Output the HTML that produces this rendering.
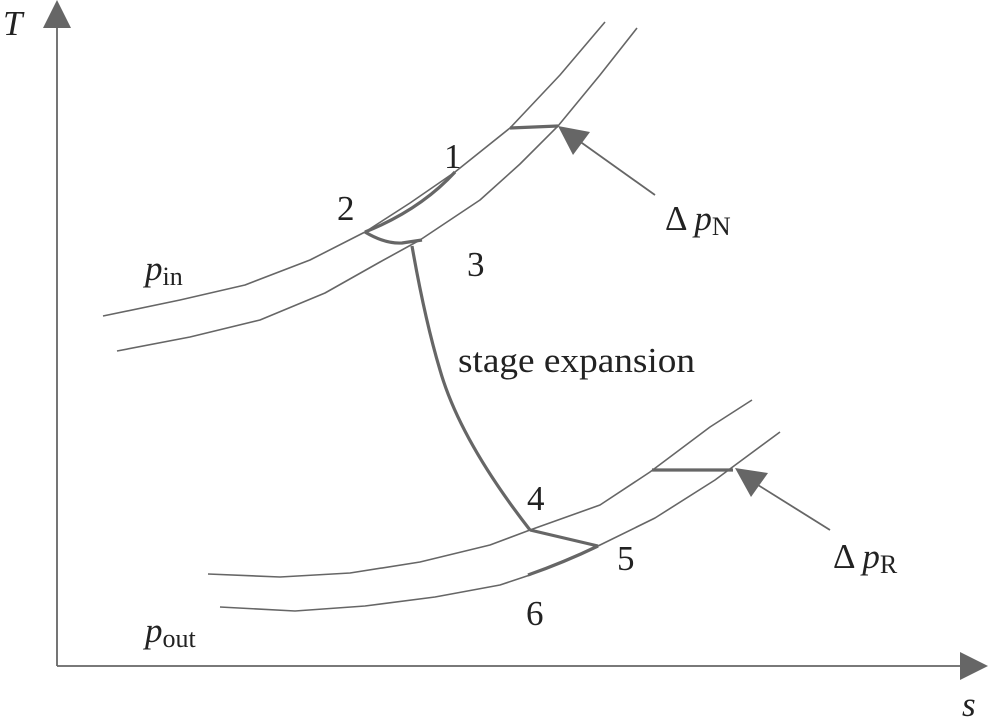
<!DOCTYPE html>
<html><head><style>
html,body{margin:0;padding:0;background:#fff;}
svg{display:block;}
text{font-family:"Liberation Serif",serif;fill:#222;font-size:35px;}
</style></head><body>
<svg width="990" height="724" viewBox="0 0 990 724">
<g fill="none" stroke="#666" stroke-width="1.6" stroke-linejoin="round">
<polyline points="103,316 180,300 245,285 310,260 365,232 410,203 455,172 510,128 560,75 605,22"/>
<polyline points="117,351 190,337 260,320 325,293 380,262 420,240 480,200 520,164 558,126 600,75 637,28"/>
<polyline points="208,574 280,577 350,573 420,562 490,545 530,530 600,505 650,472 710,427 752,400"/>
<polyline points="220,607 295,611 365,606 435,597 500,585 530,575 598,546 655,518 715,480 780,432"/>
</g>
<g fill="none" stroke="#666" stroke-width="3.2" stroke-linejoin="round">
<path d="M412,246 Q425,320 440,370 Q460,440 530,530"/>
<path d="M365,232 Q420,210 455,172"/>
<path d="M365,232 Q385,244 402,243 L422,240"/>
<line x1="510" y1="128" x2="558" y2="126"/>
<line x1="652" y1="470" x2="733" y2="470"/>
<line x1="530" y1="530" x2="598" y2="546"/>
<path d="M528,575 Q565,562 598,546"/>
</g>
<g stroke="#666" stroke-width="1.8">
<line x1="57" y1="666" x2="57" y2="20"/>
<line x1="57" y1="666" x2="965" y2="666"/>
<line x1="655" y1="195" x2="575" y2="138"/>
<line x1="830" y1="530" x2="750" y2="480"/>
</g>
<g fill="#666">
<polygon points="57,0 43,28 71,28"/>
<polygon points="988,666 960,652 960,680"/>
<polygon points="558,126 590,132 573,155"/>
<polygon points="735,468 768,473 751,497"/>
</g>
<text x="3" y="35" font-style="italic">T</text>
<text x="962" y="716" font-style="italic">s</text>
<text x="145" y="280" font-style="italic">p<tspan font-style="normal" font-size="26" dy="5">in</tspan></text>
<text x="145" y="642" font-style="italic">p<tspan font-style="normal" font-size="26" dy="5">out</tspan></text>
<text x="444" y="168">1</text>
<text x="337" y="220">2</text>
<text x="467" y="276">3</text>
<text x="527" y="510">4</text>
<text x="617" y="570">5</text>
<text x="526" y="625">6</text>
<text x="458" y="372" textLength="237" lengthAdjust="spacingAndGlyphs">stage expansion</text>
<text x="665" y="230">Δ <tspan font-style="italic">p</tspan><tspan font-size="26" dy="5">N</tspan></text>
<text x="833" y="568">Δ <tspan font-style="italic">p</tspan><tspan font-size="26" dy="5">R</tspan></text>
</svg>
</body></html>
